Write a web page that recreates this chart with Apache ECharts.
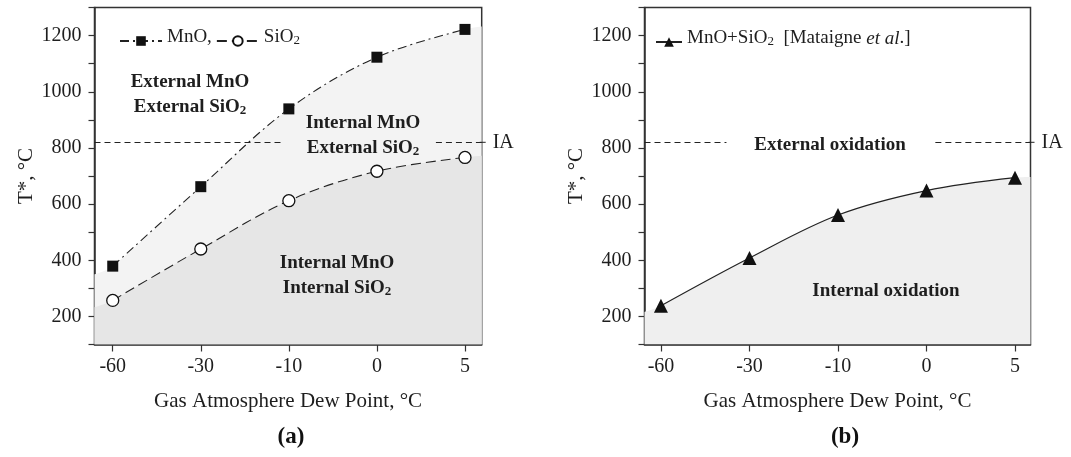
<!DOCTYPE html>
<html>
<head>
<meta charset="utf-8">
<script src="https://cdn.jsdelivr.net/npm/echarts@6/dist/echarts.min.js"></script>
<style>html,body{margin:0;padding:0;background:#fff}#c{width:1071px;height:457px}</style>
</head>
<body>
<div id="c"></div>
<script>
// ---- data ----
const categories = ['-60', '-30', '-10', '0', '5'];          // gas atmosphere dew point, °C
const mnoT = [379, 662, 939, 1123, 1222];                    // panel (a) MnO, T* °C
const sio2T = [257, 440, 612, 717, 766];                     // panel (a) SiO2, T* °C
const mataigneT = [238, 408, 561, 648, 694];                 // panel (b) MnO+SiO2 [Mataigne et al.]
const iaT = 820;                                             // IA temperature
// shaded region boundary where it meets the left / right frame
const mnoFillEdges = [350, 1232];
const sio2FillEdges = [233, 772];
const mataigneFillEdges = [216, 696];

// ---- layout / style ----
const FONT = "'Liberation Serif','Times New Roman',serif";
const INK = '#1e1e1e';
const xRangeA = [-0.207, 4.19];
const xRangeB = [-0.186, 4.175];
const idx = categories.map((c, i) => i);

function pts(vals) { return vals.map((v, i) => [i, v]); }
function fillPts(vals, edges, range) {
  return [[range[0], edges[0]]].concat(pts(vals), [[range[1], edges[1]]]);
}

function xAxis(gi, range) {
  return {
    gridIndex: gi, type: 'value', min: range[0], max: range[1],
    axisLine: { onZero: false, lineStyle: { color: '#333', width: 1.5 } },
    axisTick: { customValues: idx, length: 7, lineStyle: { color: '#333', width: 1.2 } },
    axisLabel: { customValues: idx, formatter: v => categories[Math.round(v)], fontFamily: FONT, fontSize: 20, color: INK, margin: 12 },
    splitLine: { show: false },
    name: 'Gas Atmosphere Dew Point, °C', nameLocation: 'middle', nameGap: 46,
    nameTextStyle: { fontFamily: FONT, fontSize: 21, color: INK }
  };
}
function yAxis(gi) {
  return {
    gridIndex: gi, type: 'value', min: 100, max: 1300, interval: 100,
    axisLine: { show: true, onZero: false, lineStyle: { color: '#333', width: 1.5 } },
    axisTick: { length: 6, lineStyle: { color: '#333', width: 1.2 } },
    axisLabel: { formatter: v => (v % 200 === 0 ? String(v) : ''), fontFamily: FONT, fontSize: 20, color: INK, margin: 13 },
    splitLine: { show: false },
    name: 'T*, °C', nameLocation: 'middle', nameRotate: 90, nameGap: 58,
    nameTextStyle: { fontFamily: FONT, fontSize: 21, color: INK }
  };
}

const richText = {
  n: { fontFamily: FONT, fontSize: 19, color: INK, padding: [0, 0, 7, 0] },
  sub: { fontFamily: FONT, fontSize: 13, color: INK },
  i: { fontFamily: FONT, fontSize: 19, color: INK, fontStyle: 'italic', padding: [0, 0, 7, 0] }
};
const richBold = {
  n: { fontFamily: FONT, fontSize: 19, fontWeight: 'bold', fill: INK, padding: [0, 0, 6, 0] },
  sub: { fontFamily: FONT, fontSize: 13, fontWeight: 'bold', fill: INK }
};

function iaLine(segments) {
  return segments.map((s, k) => [
    { coord: [s[0], iaT] },
    { coord: [s[1], iaT], label: { show: k === segments.length - 1 } }
  ]);
}
const iaLabel = { show: false, position: 'end', formatter: 'IA', fontFamily: FONT, fontSize: 20, color: INK, distance: 11 };
const iaStyle = { color: '#222', type: [6, 4], width: 1 };

const option = {
  animation: false,
  backgroundColor: '#fff',
  grid: [
    { left: 94.5, right: 589.3, top: 7.5, bottom: 112.5, show: true, borderColor: '#333', borderWidth: 1.5 },
    { left: 644.5, right: 40.5, top: 7.5, bottom: 112.5, show: true, borderColor: '#333', borderWidth: 1.5 }
  ],
  xAxis: [xAxis(0, xRangeA), xAxis(1, xRangeB)],
  yAxis: [yAxis(0), yAxis(1)],
  legend: [
    {
      data: ['MnO', 'SiO2'], left: 114, top: 23, itemWidth: 42, itemHeight: 12, itemGap: 4,
      formatter: n => (n === 'MnO' ? '{n|MnO,}' : '{n|SiO}{sub|2}'),
      textStyle: { rich: richText }
    },
    {
      data: ['MnO+SiO2'], left: 650, top: 24, itemWidth: 26, itemHeight: 12,
      formatter: () => '{n|MnO+SiO}{sub|2}{n|  [Mataigne }{i|et al}{n|.]}',
      textStyle: { rich: richText }
    }
  ],
  series: [
    { name: 'fillMnO', type: 'line', xAxisIndex: 0, yAxisIndex: 0, data: fillPts(mnoT, mnoFillEdges, xRangeA),
      smooth: 0.35, symbol: 'none', lineStyle: { width: 0 }, areaStyle: { color: '#f3f3f3', opacity: 1, origin: 'start' }, silent: true, z: 1,
      markLine: { silent: true, symbol: 'none', lineStyle: iaStyle, label: iaLabel,
        data: iaLine([[xRangeA[0], 1.95], [3.67, xRangeA[1]]]) } },
    { name: 'fillSiO2', type: 'line', xAxisIndex: 0, yAxisIndex: 0, data: fillPts(sio2T, sio2FillEdges, xRangeA),
      smooth: 0.35, symbol: 'none', lineStyle: { width: 0 }, areaStyle: { color: '#e6e6e6', opacity: 1, origin: 'start' }, silent: true, z: 1 },
    { name: 'fillB', type: 'line', xAxisIndex: 1, yAxisIndex: 1, data: fillPts(mataigneT, mataigneFillEdges, xRangeB),
      smooth: 0.35, symbol: 'none', lineStyle: { width: 0 }, areaStyle: { color: '#efefef', opacity: 1, origin: 'start' }, silent: true, z: 1,
      markLine: { silent: true, symbol: 'none', lineStyle: iaStyle, label: iaLabel,
        data: iaLine([[xRangeB[0], 0.74], [3.10, xRangeB[1]]]) } },
    { name: 'MnO', type: 'line', xAxisIndex: 0, yAxisIndex: 0, data: pts(mnoT), smooth: 0.35,
      symbol: 'rect', symbolSize: 11, itemStyle: { color: '#111' },
      lineStyle: { color: '#222', width: 1.1, type: [9, 4, 2, 4] }, z: 3 },
    { name: 'SiO2', type: 'line', xAxisIndex: 0, yAxisIndex: 0, data: pts(sio2T), smooth: 0.35,
      symbol: 'circle', symbolSize: 12, itemStyle: { color: '#fff', borderColor: '#111', borderWidth: 1.3 },
      lineStyle: { color: '#222', width: 1.1, type: [10, 5] }, z: 3 },
    { name: 'MnO+SiO2', type: 'line', xAxisIndex: 1, yAxisIndex: 1, data: pts(mataigneT), smooth: 0.35,
      symbol: 'triangle', symbolSize: 14, itemStyle: { color: '#111' },
      lineStyle: { color: '#222', width: 1.2 }, z: 3 }
  ],
  graphic: [
    { type: 'text', x: 190, y: 98, style: { text: '{n|External MnO}\n{n|External SiO}{sub|2}', rich: richBold, align: 'center', verticalAlign: 'middle' }, z: 10 },
    { type: 'text', x: 363, y: 139, style: { text: '{n|Internal MnO}\n{n|External SiO}{sub|2}', rich: richBold, align: 'center', verticalAlign: 'middle' }, z: 10 },
    { type: 'text', x: 337, y: 279, style: { text: '{n|Internal MnO}\n{n|Internal SiO}{sub|2}', rich: richBold, align: 'center', verticalAlign: 'middle' }, z: 10 },
    { type: 'text', x: 830, y: 145, style: { text: 'External oxidation', font: "bold 19px " + FONT, fill: INK, align: 'center', verticalAlign: 'middle' }, z: 10 },
    { type: 'text', x: 886, y: 291, style: { text: 'Internal oxidation', font: "bold 19px " + FONT, fill: INK, align: 'center', verticalAlign: 'middle' }, z: 10 },
    { type: 'text', x: 291, y: 437, style: { text: '(a)', font: "bold 23px " + FONT, fill: '#111', align: 'center', verticalAlign: 'middle' } },
    { type: 'text', x: 845, y: 437, style: { text: '(b)', font: "bold 23px " + FONT, fill: '#111', align: 'center', verticalAlign: 'middle' } }
  ]
};

const chart = echarts.init(document.getElementById('c'), null, { renderer: 'canvas' });
chart.setOption(option);

// short dash of the IA line that continues past the right frame, placed through the axes
const stubs = [[0, xRangeA[1]], [1, xRangeB[1]]].map(([g, xm]) => {
  const p = chart.convertToPixel({ gridIndex: g }, [xm, iaT]);
  return { type: 'line', shape: { x1: p[0] - 2, y1: p[1], x2: p[0] + 8, y2: p[1] },
    style: { stroke: '#222', lineWidth: 1, lineDash: [6, 4] }, z: 5 };
});
chart.setOption({ graphic: option.graphic.concat(stubs) });
</script>
</body>
</html>
